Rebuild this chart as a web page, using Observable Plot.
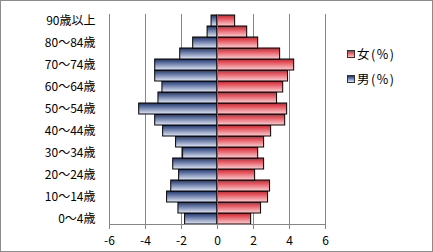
<!DOCTYPE html>
<html>
<head>
<meta charset="utf-8">
<script src="https://cdn.jsdelivr.net/npm/d3@7"></script>
<script src="https://cdn.jsdelivr.net/npm/@observablehq/plot@0.6"></script>
<style>
  html, body { margin: 0; padding: 0; background: #fff; }
  #wrap { position: relative; width: 433px; height: 252px; overflow: hidden; font-family: "Noto Sans CJK JP", sans-serif; }
  #border { position: absolute; left: 0; top: 0; width: 433px; height: 252px; box-sizing: border-box; border: 1px solid #8c8c8c; pointer-events: none; }
  #legend { position: absolute; left: 347px; top: 41px; font-size: 12.5px; color: #000; line-height: 25px; }
  .sw { display: inline-block; width: 6px; height: 6px; border: 1px solid #333; margin-right: 2px; vertical-align: 1px; }
  .p { letter-spacing: 1.5px; }
</style>
</head>
<body>
<div id="wrap"><div id="chart"></div>
<div id="legend">
  <div><span class="sw" style="background:linear-gradient(#d42a35,#f4c6cb)"></span><span class="p">女(%)</span></div>
  <div><span class="sw" style="background:linear-gradient(#1d3571,#dfe5f1)"></span><span class="p">男(%)</span></div>
</div>
<div id="border"></div>
</div>
<script>
const ages = ["0～4歳","5～9歳","10～14歳","15～19歳","20～24歳","25～29歳","30～34歳","35～39歳","40～44歳","45～49歳","50～54歳","55～59歳","60～64歳","65～69歳","70～74歳","75～79歳","80～84歳","85～89歳","90歳以上"];
const male = [-1.80,-2.17,-2.80,-2.57,-2.13,-2.46,-1.91,-2.30,-3.02,-3.46,-4.35,-3.28,-3.06,-3.46,-3.46,-2.07,-1.35,-0.55,-0.33];
const female = [1.87,2.42,2.81,2.92,2.09,2.59,2.26,2.59,2.98,3.76,3.87,3.31,3.65,3.92,4.26,3.48,2.26,1.65,0.98];
const xTicks = [-6,-4,-2,0,2,4,6];
const gridTicks = [-6,-4,-2,2,4,6];

const rows = [];
ages.forEach((a,i) => {
  rows.push({age:a, value:male[i], sex:"男"});
  rows.push({age:a, value:female[i], sex:"女"});
});

const chart = Plot.plot({
  width: 433,
  height: 252,
  marginLeft: 109,
  marginRight: 108,
  marginTop: 14,
  marginBottom: 28,
  style: {fontFamily: '"Noto Sans CJK JP", sans-serif', fontSize: "12px", background: "transparent", color: "#000"},
  x: {domain: [-6, 6]},
  y: {domain: ages.slice().reverse(), padding: 0},
  marks: [
    Plot.ruleX(gridTicks, {stroke: "#868686", strokeOpacity: 1}),
    Plot.barX(rows, {x: "value", y: "age", fill: d => d.sex === "男" ? "url(#gm)" : "url(#gf)", stroke: "#000", strokeWidth: 1, inset: 0}),
    Plot.ruleX([0], {stroke: "#6e6e6e", strokeWidth: 1}),
    Plot.axisX({ticks: xTicks, tickFormat: d => String(d), tickSize: 5, tickPadding: 7, stroke: "#868686", fill: "#000", label: null, fontSize: 12}),
    Plot.axisY({ticks: ages.filter((_, i) => i % 2 === 0), tickSize: 0, tickPadding: 14, label: null, fill: "#000", fontSize: 12})
  ]
});

const svg = d3.select(chart);
const defs = svg.insert("defs", ":first-child");
const gm = defs.append("linearGradient").attr("id", "gm").attr("x1", 0).attr("y1", 0).attr("x2", 0).attr("y2", 1);
gm.append("stop").attr("offset", "0%").attr("stop-color", "#1a3270");
gm.append("stop").attr("offset", "100%").attr("stop-color", "#e2e7f2");
const gf = defs.append("linearGradient").attr("id", "gf").attr("x1", 0).attr("y1", 0).attr("x2", 0).attr("y2", 1);
gf.append("stop").attr("offset", "0%").attr("stop-color", "#d41c28");
gf.append("stop").attr("offset", "100%").attr("stop-color", "#f6d2d6");

// bottom axis line through the library's x scale
const xs = chart.scale("x");
svg.append("line")
  .attr("x1", xs.apply(-6)).attr("x2", xs.apply(6))
  .attr("y1", 252 - 28 + 0.5).attr("y2", 252 - 28 + 0.5)
  .attr("stroke", "#868686");

document.getElementById("chart").appendChild(chart);
</script>
</body>
</html>
